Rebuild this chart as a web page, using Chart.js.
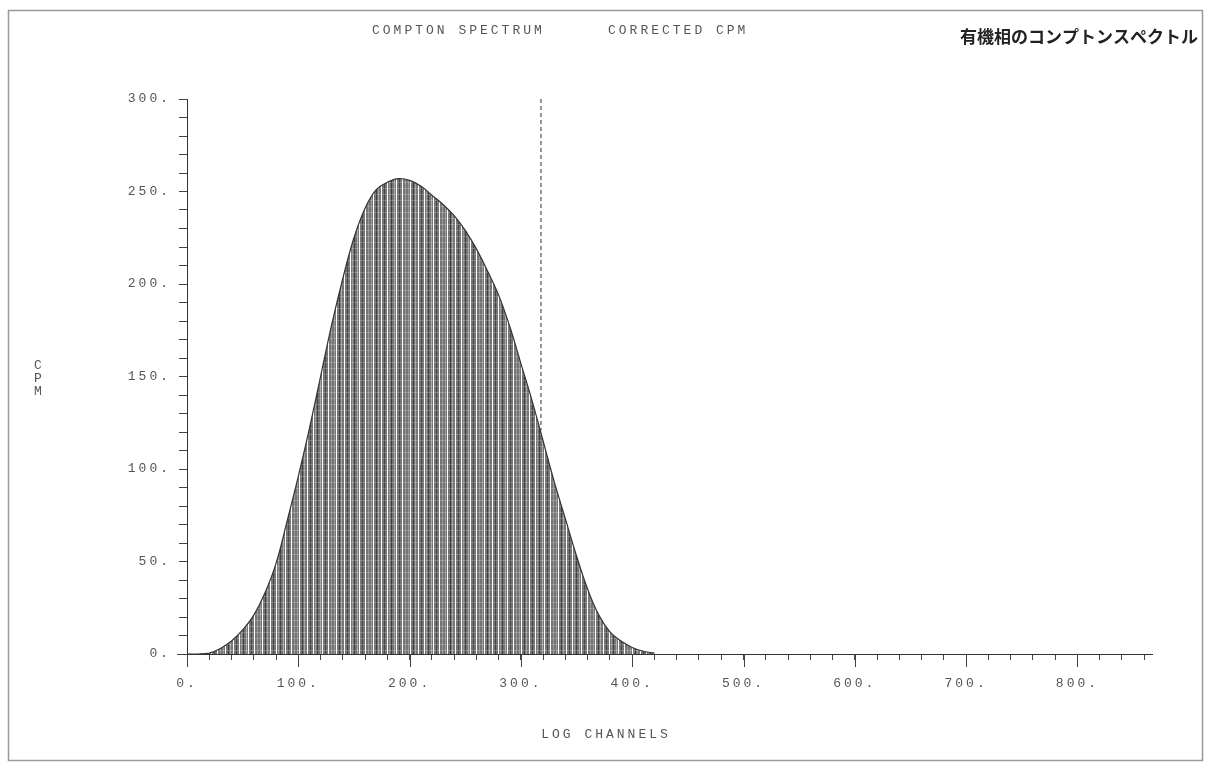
<!DOCTYPE html>
<html>
<head>
<meta charset="utf-8">
<script src="https://cdn.jsdelivr.net/npm/chart.js@4.4.1/dist/chart.umd.min.js"></script>
<style>
  html, body { margin: 0; padding: 0; background: #fff; }
  #wrap { width: 1206px; height: 764px; }
</style>
</head>
<body>
<div id="wrap"><canvas id="spectrum" width="1206" height="764"></canvas></div>
<script>
// channel / cpm
const channels = [0, 10, 20, 30, 40, 50, 60, 70, 80, 90, 100, 110, 120, 130, 140, 150, 160, 170, 180, 190,
  200, 210, 220, 230, 240, 250, 260, 270, 280, 290, 300, 310, 320, 330, 340, 350, 360, 370, 380, 390,
  400, 410, 420];
const cpm = [0, 0, 0.5, 3, 7, 13, 21, 33, 49, 72, 96, 122, 150, 178, 203, 225, 241, 251, 255, 257,
  256, 253, 248, 243, 237, 229, 219, 207, 194, 177, 157, 137, 115, 93, 73, 53, 35, 21, 12, 7,
  3.5, 1.5, 0.5];
const markerChannel = [318, 318];
const markerCpm = [300, 121];
const xMax = 867;
const yMax = 300;

const titleLeft = "COMPTON SPECTRUM";
const titleRight = "CORRECTED CPM";
const titleJa = "有機相のコンプトンスペクトル";
const xTitle = "LOG CHANNELS";
const yTitle = ["C", "P", "M"];

const mono = "'Liberation Mono', 'DejaVu Sans Mono', monospace";
const ink = "#555";

// hatch pattern for the filled area
function makeHatch() {
  const c = document.createElement("canvas");
  c.width = 37; c.height = 6;
  const g = c.getContext("2d");
  g.fillStyle = "#747474";
  g.fillRect(0, 0, 37, 6);
  [[1, "#9c9c9c"], [6, "#3c3c3c"], [8, "#a5a5a5"], [14, "#444"], [19, "#999"], [21, "#3e3e3e"], [24, "#aaa"], [29, "#474747"], [35, "#999"]]
    .forEach(([x, col]) => { g.fillStyle = col; g.fillRect(x, 0, 1, 6); });
  [3, 11, 17, 26, 32].forEach((x) => { g.fillStyle = "#fff"; g.fillRect(x, 0, 1, 6); });
  g.fillStyle = "rgba(255,255,255,0.22)";
  g.fillRect(0, 2, 37, 1);
  return g.createPattern(c, "repeat");
}

const frameAndText = {
  id: "frameAndText",
  beforeDraw(chart) {
    const ctx = chart.ctx;
    ctx.save();
    ctx.fillStyle = "#fff";
    ctx.fillRect(0, 0, chart.width, chart.height);
    ctx.strokeStyle = "#999";
    ctx.lineWidth = 1.5;
    ctx.strokeRect(8.5, 10.5, 1194, 750);
    ctx.restore();
    ctx.letterSpacing = "3px";
  },
  afterDraw(chart) {
    const ctx = chart.ctx;
    const xs = chart.scales.x, ys = chart.scales.y;
    ctx.save();
    // longer ticks on the hundreds
    ctx.strokeStyle = "#444";
    ctx.lineWidth = 1;
    for (let v = 0; v <= 800; v += 100) {
      const px = Math.round(xs.getPixelForValue(v)) + 0.5;
      ctx.beginPath();
      ctx.moveTo(px, ys.bottom);
      ctx.lineTo(px, ys.bottom + 13);
      ctx.stroke();
    }
    // axes run a little past the origin
    const ax = Math.round(xs.left) + 0.5;
    const ay = Math.round(ys.bottom) + 0.5;
    ctx.beginPath();
    ctx.moveTo(ax, ys.bottom);
    ctx.lineTo(ax, ys.bottom + 9);
    ctx.moveTo(xs.left - 10, ay);
    ctx.lineTo(xs.left, ay);
    ctx.stroke();

    ctx.fillStyle = ink;
    ctx.font = "13px " + mono;
    ctx.letterSpacing = "3px";
    ctx.textBaseline = "middle";
    ctx.textAlign = "left";
    ctx.fillText(titleLeft, 372, 31);
    ctx.fillText(titleRight, 608, 31);
    ctx.textAlign = "center";
    ctx.fillText(xTitle, 606, 735);
    ctx.letterSpacing = "0px";
    yTitle.forEach((ch, i) => ctx.fillText(ch, 38, 366 + i * 13));

    ctx.fillStyle = "#222";
    ctx.font = "bold 17px 'Noto Sans CJK JP', sans-serif";
    ctx.textAlign = "right";
    ctx.fillText(titleJa, 1198, 37);
    ctx.restore();
  }
};

const ctx = document.getElementById("spectrum").getContext("2d");
new Chart(ctx, {
  type: "line",
  data: {
    datasets: [
      {
        data: channels.map((c, i) => ({ x: c, y: cpm[i] })),
        borderColor: "#333",
        borderWidth: 1.2,
        backgroundColor: makeHatch(),
        fill: "origin",
        pointRadius: 0,
        tension: 0.4,
      },
      {
        data: markerChannel.map((c, i) => ({ x: c, y: markerCpm[i] })),
        borderColor: "#777",
        borderWidth: 1.5,
        borderDash: [4, 3],
        pointRadius: 0,
        fill: false,
      },
    ],
  },
  options: {
    responsive: false,
    animation: false,
    layout: { padding: { left: 0, top: 99, right: 54, bottom: 0 } },
    plugins: {
      legend: { display: false },
      tooltip: { enabled: false },
    },
    scales: {
      x: {
        type: "linear",
        min: 0,
        max: xMax,
        afterFit: (s) => { s.height = 110; },
        border: { display: true, color: "#333", width: 1 },
        grid: { drawOnChartArea: false, drawTicks: true, tickLength: 6, color: "#444" },
        ticks: {
          stepSize: 20,
          includeBounds: false,
          autoSkip: false,
          maxRotation: 0,
          padding: 16,
          color: ink,
          font: { family: mono, size: 13 },
          callback: (v) => (v % 100 === 0 ? v + "." : ""),
        },
      },
      y: {
        min: 0,
        max: yMax,
        afterFit: (s) => { s.width = 187; },
        border: { display: true, color: "#333", width: 1 },
        grid: { drawOnChartArea: false, drawTicks: true, tickLength: 8, color: "#444" },
        ticks: {
          stepSize: 10,
          autoSkip: false,
          padding: 8,
          color: ink,
          font: { family: mono, size: 13 },
          callback: (v) => (v % 50 === 0 ? v + "." : ""),
        },
      },
    },
  },
  plugins: [frameAndText],
});
</script>
</body>
</html>
